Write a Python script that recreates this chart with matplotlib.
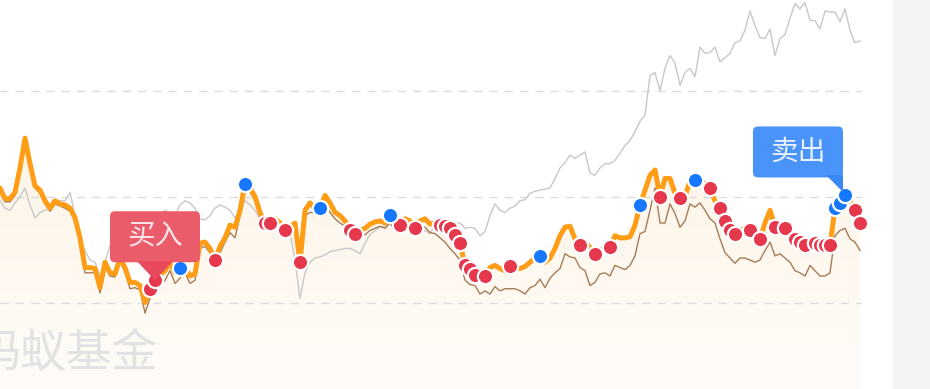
import numpy as np
import matplotlib
matplotlib.use("Agg")
import matplotlib.pyplot as plt
import matplotlib.transforms as mtransforms
from matplotlib.patches import FancyBboxPatch, Polygon, Rectangle
from matplotlib.colors import LinearSegmentedColormap

plt.rcParams['font.family'] = ['Noto Sans CJK SC', 'DejaVu Sans']

# ---------------- data ----------------
fund = [10.8, 9.8, 9.8, 10.4, 12.7, 15.5, 13.1, 11.0, 10.6, 9.6,
        8.9, 9.6, 9.3, 9.2, 8.9, 8.0, 6.1, 3.3, 3.3, 3.2,
        1.4, 3.8, 2.8, 2.7, 4.2, 3.3, 1.9, 1.9, 1.6, 0.0,
        1.3, 2.1, 2.6, 3.0, 3.7, 2.8, 3.3, 3.3, 2.5, 2.7,
        5.6, 5.7, 5.1, 4.0, 5.3, 6.1, 7.3, 7.1, 8.7, 11.2,
        10.8, 10.0, 8.5, 7.5, 7.5, 7.9, 7.5, 6.8, 7.1, 7.5,
        3.8, 8.7, 9.4, 8.9, 8.9, 10.1, 9.4, 8.5, 8.2, 7.7,
        6.8, 6.5, 6.8, 7.0, 7.4, 7.6, 7.7, 7.5, 8.3, 7.5,
        7.3, 7.9, 7.7, 7.0, 7.7, 7.9, 7.4, 7.5, 7.3, 7.2,
        7.0, 6.4, 5.6, 3.5, 3.2, 2.6, 2.5, 2.5, 3.3, 3.5,
        3.2, 3.0, 3.4, 3.3, 3.2, 3.4, 3.8, 4.2, 4.4, 3.8,
        4.2, 5.1, 6.3, 7.1, 7.2, 6.0, 5.4, 5.7, 5.2, 4.6,
        4.9, 5.1, 5.2, 6.3, 6.1, 6.1, 6.2, 7.3, 9.2, 10.6,
        12.0, 12.5, 10.0, 11.7, 11.7, 10.3, 9.9, 10.0, 11.5, 11.6,
        11.5, 11.2, 10.8, 9.6, 8.9, 7.7, 6.8, 6.5, 6.8, 7.0,
        6.8, 6.3, 6.0, 7.5, 8.7, 7.1, 7.0, 7.0, 6.4, 6.0,
        5.7, 5.4, 5.8, 5.6, 5.4, 5.4, 5.4, 8.9, 9.4, 10.1,
        9.6, 8.7, 7.5]

plan = [10.4, 9.5, 9.5, 10.1, 12.5, 15.3, 12.8, 10.8, 10.3, 9.3,
        8.6, 9.3, 9.1, 8.9, 8.6, 7.7, 5.8, 2.8, 2.8, 2.8,
        0.9, 3.4, 2.5, 2.4, 3.8, 2.9, 1.3, 1.4, 1.2, -1.0,
        0.4, 1.3, 1.6, 2.1, 3.0, 1.8, 2.3, 2.8, 1.8, 2.1,
        5.1, 5.3, 4.7, 3.8, 4.7, 5.7, 6.6, 6.1, 8.2, 10.5,
        10.5, 9.6, 8.1, 7.2, 7.2, 7.5, 7.2, 6.4, 6.8, 7.3,
        3.5, 8.2, 8.5, 8.5, 8.5, 9.2, 8.5, 7.9, 7.5, 7.2,
        6.4, 6.0, 6.2, 6.4, 6.8, 7.0, 7.2, 7.0, 7.5, 6.8,
        6.8, 7.0, 6.8, 6.6, 7.0, 7.1, 6.6, 6.5, 6.1, 5.7,
        5.1, 4.6, 4.0, 2.1, 1.7, 1.6, 0.8, 1.1, 0.8, 1.5,
        1.1, 1.3, 1.3, 1.3, 1.1, 0.8, 1.4, 1.6, 2.2, 1.4,
        2.3, 2.8, 3.2, 4.6, 4.3, 4.2, 3.3, 3.0, 1.6, 1.9,
        2.7, 2.8, 2.5, 3.5, 3.3, 3.1, 3.5, 4.4, 6.5, 6.7,
        8.7, 10.8, 7.5, 7.5, 9.3, 8.4, 7.1, 7.7, 9.3, 9.0,
        9.4, 8.7, 7.9, 7.5, 6.0, 4.7, 4.2, 3.7, 4.2, 4.2,
        4.0, 3.8, 4.0, 4.9, 5.7, 4.4, 4.6, 4.2, 3.8, 3.0,
        2.8, 2.5, 3.5, 3.0, 2.5, 2.5, 2.8, 6.3, 6.8, 7.0,
        6.0, 5.7, 4.9]

bench = [9.6, 8.9, 8.7, 9.4, 10.0, 10.8, 9.2, 8.0, 8.5, 8.7,
         8.9, 9.6, 9.6, 9.6, 10.4, 8.2, 5.8, 4.9, 4.0, 3.8,
         2.5, 3.8, 5.4, 5.4, 5.6, 5.1, 5.4, 6.0, 6.6, 7.0,
         7.3, 7.7, 8.2, 8.7, 8.5, 8.2, 9.2, 9.6, 9.4, 8.9,
         7.9, 7.8, 8.2, 8.9, 9.2, 9.0, 8.7, 8.0, 8.5, 9.6,
         9.2, 8.7, 7.9, 7.5, 7.4, 7.5, 7.3, 6.6, 6.6, 4.0,
         0.4, 2.8, 3.8, 4.2, 4.3, 4.5, 4.8, 4.9, 5.0, 5.1,
         5.1, 4.9, 4.6, 5.6, 6.4, 6.8, 7.1, 7.2, 7.5, 7.0,
         6.8, 7.0, 7.0, 7.2, 6.6, 6.8, 6.5, 7.3, 7.5, 7.5,
         7.5, 7.5, 7.5, 7.0, 7.1, 7.0, 6.3, 6.7, 8.2, 9.3,
         8.7, 8.5, 8.9, 9.1, 9.6, 9.7, 10.3, 10.5, 10.6, 10.7,
         10.8, 11.7, 12.7, 13.2, 13.9, 13.6, 13.9, 14.2, 12.2, 12.0,
         12.7, 13.1, 13.1, 13.4, 14.1, 14.8, 15.3, 16.1, 17.1, 17.7,
         21.4, 21.7, 20.0, 22.1, 23.3, 22.6, 20.5, 21.7, 22.1, 21.3,
         24.1, 23.5, 23.6, 24.1, 22.7, 23.1, 23.5, 24.5, 24.7, 25.7,
         27.5, 26.1, 25.0, 24.9, 25.8, 23.3, 24.9, 25.3, 26.8, 28.2,
         27.7, 28.3, 26.6, 26.6, 25.8, 27.5, 27.4, 27.4, 26.5, 27.7,
         25.7, 24.5, 24.7]

buy_idx = [30, 31, 43, 53, 54, 57, 60, 70, 71, 80, 83, 88, 89, 90, 91, 92,
           93, 94, 95, 97, 102, 116, 119, 122, 132, 136, 142, 144, 145, 146,
           147, 150, 152, 155, 157, 159, 160, 161, 163, 164, 165, 166, 171, 172]
sell_idx = [36, 49, 64, 78, 108, 128, 139, 167, 168, 169]

buy_label = "买入"
sell_label = "卖出"
watermark = "蚂蚁基金"
grid_levels = [0, 10, 20]

# ---------------- figure ----------------
W, H, DPI = 930, 389, 100
fig = plt.figure(figsize=(W / DPI, H / DPI), dpi=DPI)
fig.patch.set_facecolor("white")
fig.patches.append(Rectangle((893 / W, 0), 1 - 893 / W, 1, transform=fig.transFigure,
                             facecolor="#f4f4f4", edgecolor="none", zorder=0))

ax = fig.add_axes([0, 0, 862 / W, 1])
ax.set_facecolor("none")
for s in ax.spines.values():
    s.set_visible(False)
ax.set_xticks([])
ax.set_yticks([])

x = np.arange(len(fund))
fund = np.array(fund)
plan = np.array(plan)
bench = np.array(bench)

ymin, ymax = -8.16, 28.54
ax.set_xlim(0, 172.4)
ax.set_ylim(ymin, ymax)

# gradient fill under fund line
poly = ax.fill_between(x, fund, ymin, facecolor="none", edgecolor="none")
grad = np.linspace(0, 1, 256).reshape(-1, 1)
cmap = LinearSegmentedColormap.from_list("f", ["#fffcf8", "#fdf4e7"])
im = ax.imshow(grad, extent=[0, x[-1], ymin, 16], origin="lower", aspect="auto",
               cmap=cmap, zorder=1)
path = poly.get_paths()[0]
im.set_clip_path(path, transform=ax.transData)

for g in grid_levels:
    ax.axhline(g, color="#dcdcdc", lw=1.0, ls=(0, (6, 5)), zorder=1.5)

ax.plot(x, bench, color="#c8c8c8", lw=1.0, zorder=2)
ax.plot(x, plan, color="#a67c56", lw=1.0, zorder=3)
ax.plot(x, fund, color="#ff9e16", lw=3.6, zorder=4, solid_joinstyle="round",
        solid_capstyle="round")

ax.plot(x[buy_idx], fund[buy_idx], "o", ms=11, mfc="#e5384d", mec="white",
        mew=1.6, zorder=5, ls="none", clip_on=False)
ax.plot(x[sell_idx], fund[sell_idx], "o", ms=11, mfc="#1677ff", mec="white",
        mew=1.6, zorder=5, ls="none", clip_on=False)


def callout(ix, text, box_x0, box_x1, tri, face, tri_face, txt_color):
    trans = fig.dpi_scale_trans + mtransforms.ScaledTranslation(x[ix], fund[ix], ax.transData)
    bx0, by0, bx1, by1 = box_x0, 0.18, box_x1, 0.69
    r = 0.05
    box = FancyBboxPatch((bx0 + r, by0 + r), (bx1 - bx0) - 2 * r, (by1 - by0) - 2 * r,
                         boxstyle=f"round,pad={r}", transform=trans,
                         facecolor=face, edgecolor="none", zorder=6)
    ax.add_patch(box)
    ax.add_patch(Polygon(tri, closed=True, transform=trans, facecolor=tri_face,
                         edgecolor="none", zorder=6))
    ax.text((bx0 + bx1) / 2, (by0 + by1) / 2, text, transform=trans, ha="center",
            va="center", fontsize=20, color=txt_color, zorder=7,
            family=['Noto Sans CJK SC', 'DejaVu Sans'])


callout(buy_idx[1], buy_label, -0.45, 0.45,
        [(-0.18, 0.19), (0.18, 0.19), (0.0, 0.0)],
        "#eb5c6b", "#e84a5c", "#fde6e9")
callout(sell_idx[-1], sell_label, -0.92, -0.02,
        [(-0.19, 0.20), (-0.02, 0.20), (-0.02, 0.03)],
        "#4a93f8", "#3a87f6", "#e8f1ff")

fig.text(-26 / W, 1 - 354 / H, watermark, ha="left", va="center", fontsize=33,
         color="#e2e2e2", family=['Noto Sans CJK SC', 'DejaVu Sans'], zorder=8)

fig.savefig("out.png", dpi=DPI)
